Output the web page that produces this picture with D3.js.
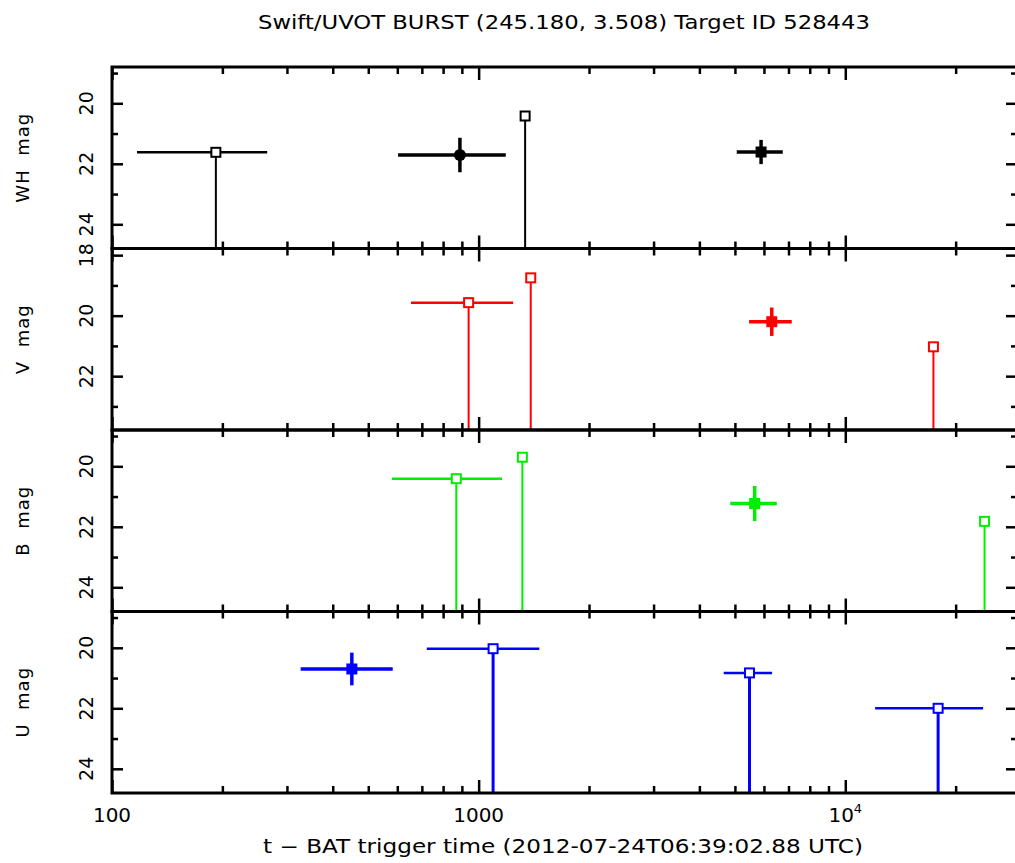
<!DOCTYPE html>
<html>
<head>
<meta charset="utf-8">
<script src="https://cdn.jsdelivr.net/npm/d3@7"></script>
<style>
  body { margin: 0; background: #fff; }
  text { font-family: "DejaVu Sans", sans-serif; fill: #000; }
</style>
</head>
<body>
<div id="chart"></div>
<script>
// --- data ---
const bandLabels = ["WH mag", "V mag", "B mag", "U mag"];
const magDomains = [[18.8, 24.8], [17.78, 23.78], [18.8, 24.8], [18.8, 24.8]];
const magMajorTicks = [18, 20, 22, 24];
const magMinorTicks = [19, 21, 23];
const timeDomain = [100, 29400];
const timeLabels = [100, 1000, 10000];

// rows: [t, tLow, tHigh, mag, magErr, upperLimit]
const whPoints = [
  [192, 117, 265, 21.62, 0, true],
  [889, 603, 1186, 21.71, 0.57, false],
  [1339, 1339, 1339, 20.42, 0, true],
  [5893, 5058, 6754, 21.61, 0.40, false]
];
const vPoints = [
  [939, 654, 1242, 19.57, 0, true],
  [1387, 1387, 1387, 18.75, 0, true],
  [6302, 5465, 7145, 20.20, 0.47, false],
  [17395, 17395, 17395, 21.03, 0, true]
];
const bPoints = [
  [869, 580, 1158, 20.41, 0, true],
  [1316, 1316, 1316, 19.70, 0, true],
  [5661, 4857, 6503, 21.23, 0.58, false],
  [23980, 23980, 23980, 21.82, 0, true]
];
const uPoints = [
  [451, 327, 583, 20.70, 0.54, false],
  [1095, 722, 1464, 20.03, 0, true],
  [5479, 4660, 6314, 20.83, 0, true],
  [17915, 12060, 23760, 22.00, 0, true]
];

const bandPoints = [whPoints, vPoints, bPoints, uPoints];
const bandColors = ["#000000", "#ff0000", "#00ee00", "#0000ff"];

// --- layout ---
const W = 1015, H = 863;
const left = 112, right = 1017;
const top0 = 67, bottom = 793;
const panelH = (bottom - top0) / 4;

const svg = d3.select("#chart").append("svg")
  .attr("width", W)
  .attr("height", H);

const x = d3.scaleLog()
  .domain(timeDomain)
  .range([left, right]);

const xMajor = [100, 1000, 10000];
const xMinor = [];
for (let d = 100; d <= 10000; d *= 10) {
  for (let k = 2; k <= 9; k++) {
    if (d * k < timeDomain[1]) xMinor.push(d * k);
  }
}

svg.append("text")
  .attr("x", 564)
  .attr("y", 29)
  .attr("text-anchor", "middle")
  .attr("textLength", 612)
  .attr("lengthAdjust", "spacingAndGlyphs")
  .style("font-size", "19px")
  .text("Swift/UVOT BURST (245.180, 3.508) Target ID 528443");

bandPoints.forEach((points, i) => {
  const pTop = top0 + i * panelH;
  const pBot = pTop + panelH;
  const color = bandColors[i];

  const y = d3.scaleLinear()
    .domain(magDomains[i])
    .range([pTop, pBot]);

  const g = svg.append("g").attr("class", "panel");

  // x ticks, top and bottom, pointing inward
  const addXTicks = (vals, len) => {
    g.append("g")
      .attr("transform", `translate(0,${pBot})`)
      .call(d3.axisBottom(x).tickValues(vals).tickSizeInner(-len).tickSizeOuter(0).tickFormat(""))
      .call(a => a.select(".domain").remove())
      .selectAll("line").attr("stroke-width", 2.5);
    g.append("g")
      .attr("transform", `translate(0,${pTop})`)
      .call(d3.axisTop(x).tickValues(vals).tickSizeInner(-len).tickSizeOuter(0).tickFormat(""))
      .call(a => a.select(".domain").remove())
      .selectAll("line").attr("stroke-width", 2.5);
  };
  addXTicks(xMinor, 7);
  addXTicks(xMajor, 13);

  // y ticks, left and right, pointing inward
  const addYTicks = (vals, len) => {
    g.append("g")
      .attr("transform", `translate(${left},0)`)
      .call(d3.axisLeft(y).tickValues(vals).tickSizeInner(-len).tickSizeOuter(0).tickFormat(""))
      .call(a => a.select(".domain").remove())
      .selectAll("line").attr("stroke-width", 2.5);
    g.append("g")
      .attr("transform", `translate(${right},0)`)
      .call(d3.axisRight(y).tickValues(vals).tickSizeInner(-len).tickSizeOuter(0).tickFormat(""))
      .call(a => a.select(".domain").remove())
      .selectAll("line").attr("stroke-width", 2.5);
  };
  addYTicks(magMinorTicks.filter(v => v > magDomains[i][0] && v < magDomains[i][1]), 6);
  addYTicks(magMajorTicks.filter(v => v > magDomains[i][0] && v < magDomains[i][1]), 11);

  // rotated y tick labels (allowed to spill just past the frame like the original)
  g.selectAll("text.ylab")
    .data(magMajorTicks.filter(v => v >= magDomains[i][0] - 0.3 && v <= magDomains[i][1]))
    .join("text")
    .attr("class", "ylab")
    .attr("transform", d => `translate(93,${y(d) + (d < magDomains[i][0] ? -5 : 0)}) rotate(-90)`)
    .attr("text-anchor", "middle")
    .style("font-size", "19px")
    .text(d => d);

  g.append("text")
    .attr("transform", `translate(29,${(pTop + pBot) / 2}) rotate(-90)`)
    .attr("text-anchor", "middle")
    .style("font-size", "18px")
    .style("letter-spacing", "1px")
    .attr("xml:space", "preserve")
    .text(bandLabels[i].replace(" ", "  "));

  // marks
  const marks = g.append("g");
  points.forEach(([t, lo, hi, mag, err, limit]) => {
    const cx = x(t), cy = y(mag);
    if (hi > lo) {
      marks.append("line")
        .attr("x1", x(lo)).attr("x2", x(hi))
        .attr("y1", cy).attr("y2", cy)
        .attr("stroke", color)
        .attr("stroke-width", limit ? 2.5 : 3.5);
    }
    if (limit) {
      marks.append("line")
        .attr("x1", cx).attr("x2", cx)
        .attr("y1", cy).attr("y2", pBot)
        .attr("stroke", color)
        .attr("stroke-width", i === 3 ? 3 : 2);
      marks.append("rect")
        .attr("x", cx - 4.5).attr("y", cy - 4.5)
        .attr("width", 9).attr("height", 9)
        .attr("fill", "#fff")
        .attr("stroke", color)
        .attr("stroke-width", 2);
    } else {
      marks.append("line")
        .attr("x1", cx).attr("x2", cx)
        .attr("y1", y(mag - err)).attr("y2", y(mag + err))
        .attr("stroke", color)
        .attr("stroke-width", 3.5);
      if (i === 0 && t < 1000) {
        marks.append("circle")
          .attr("cx", cx).attr("cy", cy).attr("r", 6)
          .attr("fill", color);
      } else {
        marks.append("rect")
          .attr("x", cx - 5.5).attr("y", cy - 5.5)
          .attr("width", 11).attr("height", 11)
          .attr("fill", color);
      }
    }
  });

  // frame
  g.append("rect")
    .attr("x", left).attr("y", pTop)
    .attr("width", right - left).attr("height", panelH)
    .attr("fill", "none")
    .attr("stroke", "#000")
    .attr("stroke-width", 3);
});

// bottom x tick labels
const xl = svg.append("g");
timeLabels.forEach(v => {
  const t = xl.append("text")
    .attr("x", x(v))
    .attr("y", 822)
    .attr("text-anchor", "middle")
    .style("font-size", "20px");
  if (v >= 10000) {
    t.text("10");
    t.append("tspan")
      .attr("dy", -9)
      .style("font-size", "13px")
      .text(Math.round(Math.log10(v)));
  } else {
    t.text(v);
  }
});

svg.append("text")
  .attr("x", 563)
  .attr("y", 853)
  .attr("text-anchor", "middle")
  .attr("textLength", 600)
  .attr("lengthAdjust", "spacingAndGlyphs")
  .style("font-size", "19px")
  .text("t \u2212 BAT trigger time (2012-07-24T06:39:02.88 UTC)");
</script>
</body>
</html>
